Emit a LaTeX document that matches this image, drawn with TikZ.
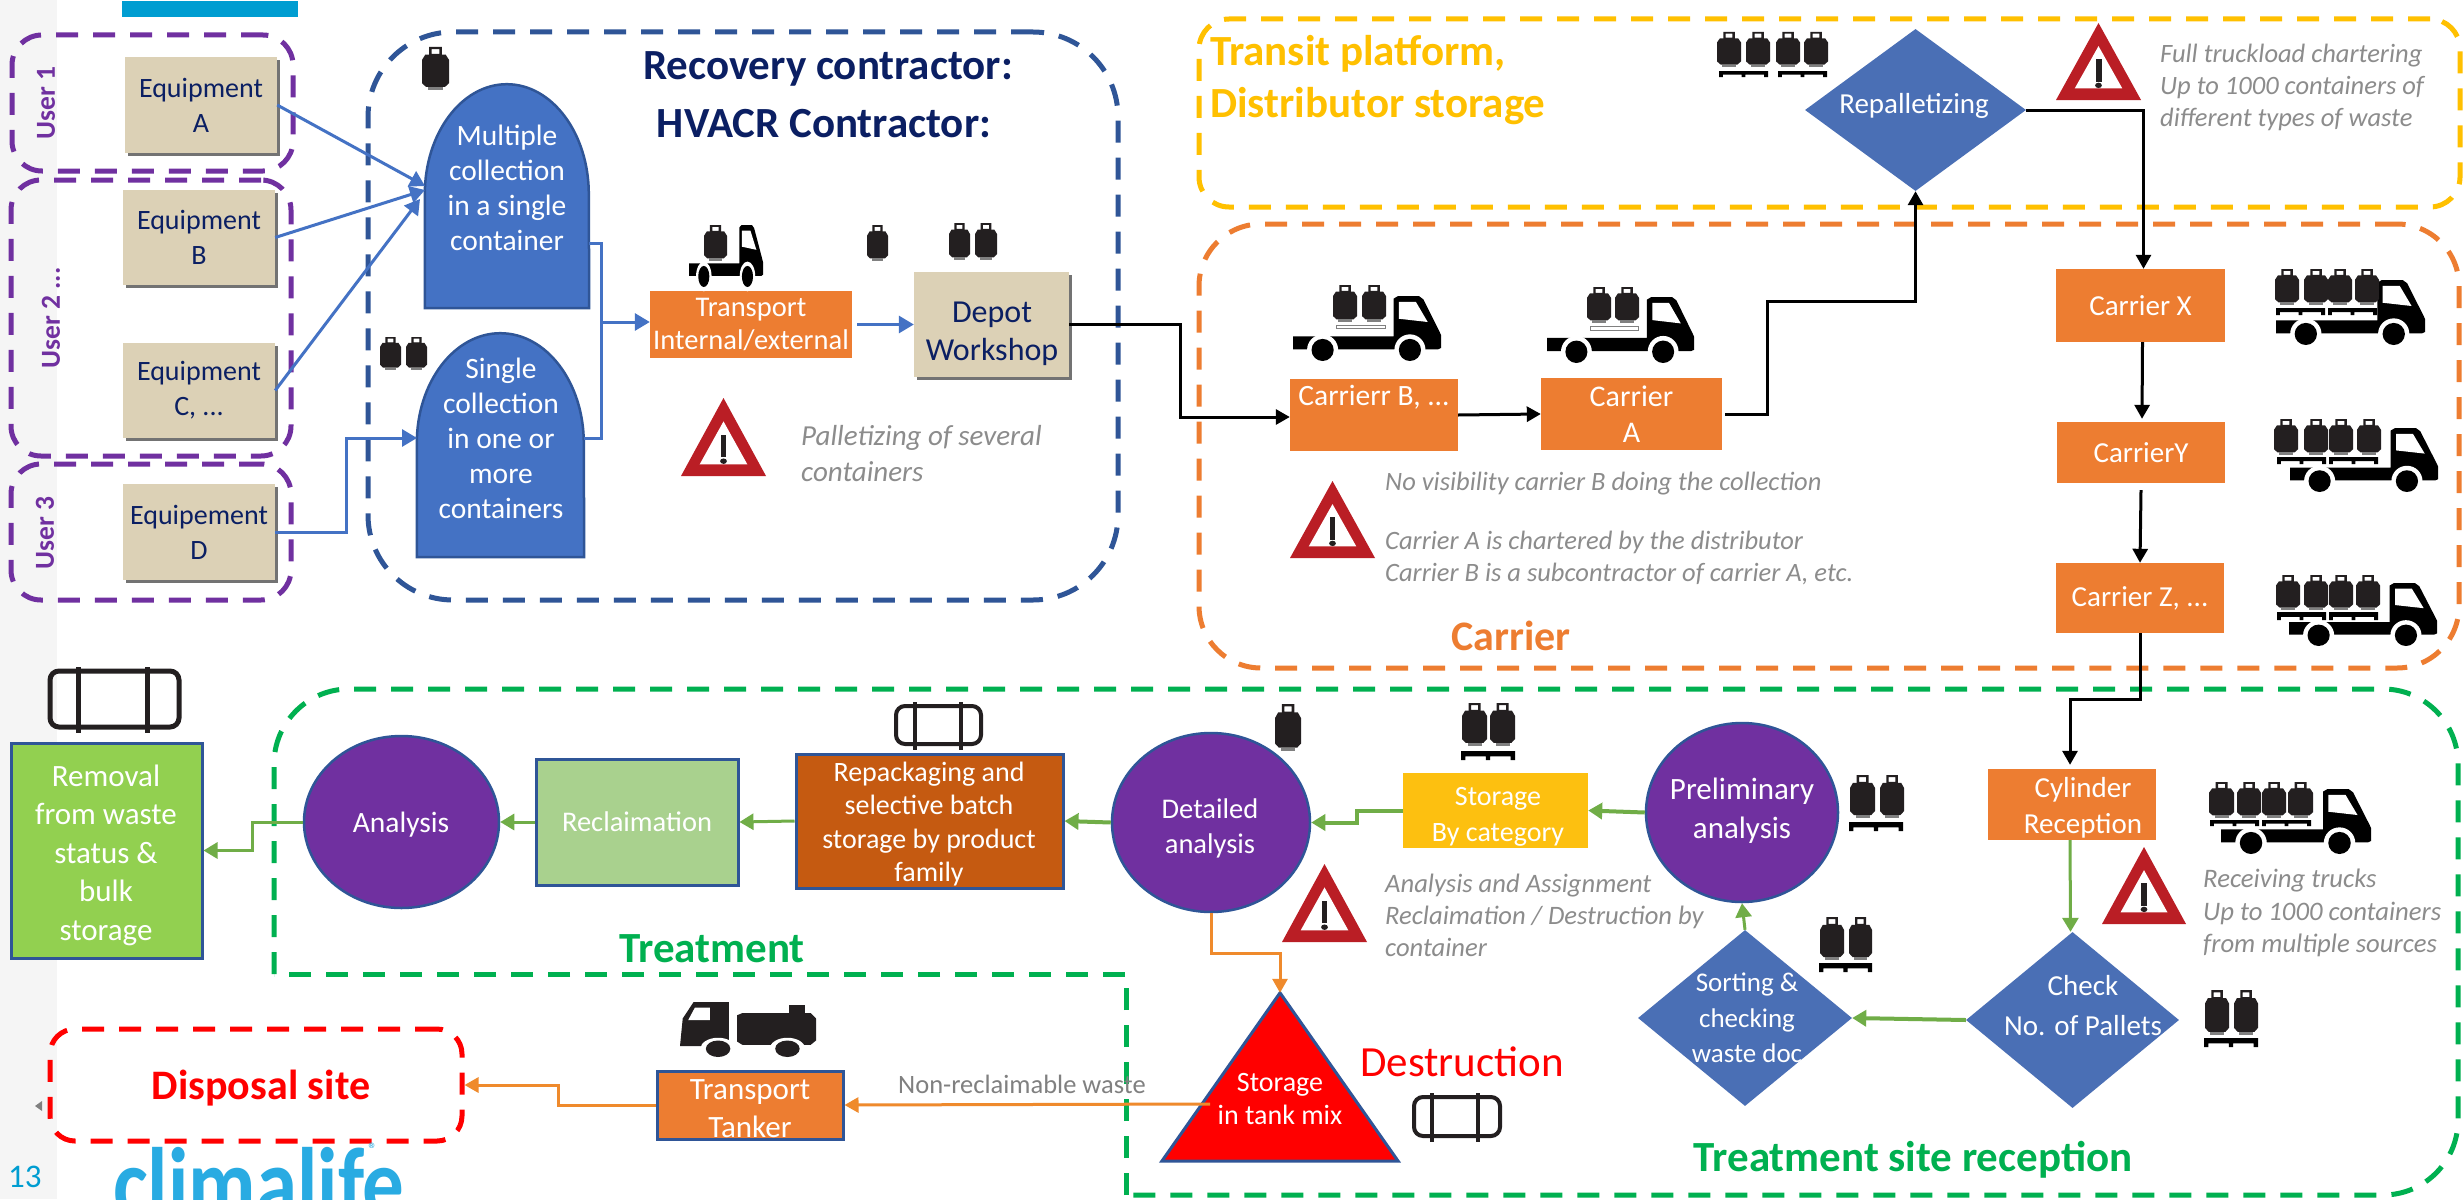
\documentclass[tikz,border=0pt]{standalone}
\usepackage{fontspec}
\setmainfont{Carlito}
\usetikzlibrary{arrows.meta,shapes.geometric,calc}
\definecolor{cpurple}{HTML}{7030A0}
\definecolor{cnavy}{HTML}{2F5597}
\definecolor{ctext}{HTML}{0B1F63}
\definecolor{cblue}{HTML}{4472C4}
\definecolor{cdia}{HTML}{4A6FB5}
\definecolor{cbeige}{HTML}{DCD1B6}
\definecolor{corange}{HTML}{ED7D31}
\definecolor{cyellow}{HTML}{FFC000}
\definecolor{cgreen}{HTML}{00B050}
\definecolor{carrow}{HTML}{70AD47}
\definecolor{cgray}{HTML}{8C8C8C}
\definecolor{cwarn}{HTML}{BA1E25}
\definecolor{cdark}{HTML}{231F20}
\definecolor{cbar}{HTML}{009DD1}
\definecolor{ccyan}{HTML}{29ABE2}
\definecolor{crepack}{HTML}{C55A11}
\definecolor{creclaim}{HTML}{A9D18E}
\definecolor{cremoval}{HTML}{92D050}
\definecolor{cstorage}{HTML}{FDC010}
\newcommand{\fsz}[2]{\fontsize{#1}{#2}\selectfont}
\tikzset{
  zone/.style={draw=#1,line width=5pt,dash pattern=on 22pt off 15pt,rounded corners=30pt,inner sep=0pt},
  equip/.style={fill=cbeige,inner sep=0pt,text=ctext,align=center,font=\fsz{28}{35}},
  shad/.style={fill=gray!90!black},
  orangebox/.style={fill=corange,inner sep=0pt,text=white,align=center,font=\fsz{29}{36}},
  bordered/.style={draw=cnavy,line width=3pt,inner sep=0pt,text=white,align=center,font=\fsz{29}{36}},
  ovalnode/.style={ellipse,fill=cpurple,draw=cnavy,line width=2.5pt,inner sep=0pt},
  dia/.style={diamond,fill=cdia,inner sep=0pt},
  wlabel/.style={text=white,align=center,inner sep=0pt,font=\fsz{29.5}{35}},
  note/.style={text=cgray,align=left,inner sep=0pt,anchor=west,font=\fsz{26.5}{32}\itshape},
  flowblue/.style={color=cblue,line width=3pt,-{Triangle[length=15pt,width=17pt]}},
  plainblue/.style={color=cblue,line width=3pt},
  flowblack/.style={color=black,line width=3pt,-{Triangle[length=14pt,width=15pt]}},
  flowgreen/.style={color=carrow,line width=3pt,-{Triangle[length=14pt,width=16pt]}},
  floworange/.style={color=corange!90!yellow,line width=3pt,-{Triangle[length=14pt,width=15pt]}},
  title/.style={inner sep=0pt,font=\fsz{43}{50}\bfseries},
}
% rectangular / any node given by its corners
\newcommand{\rnode}[7][]{%
  \pgfmathsetmacro{\cxx}{(#3+#5)/2}\pgfmathsetmacro{\cyy}{(#4+#6)/2}%
  \pgfmathsetmacro{\wdd}{#5-#3}\pgfmathsetmacro{\htt}{#6-#4}%
  \node[#1,minimum width=\wdd pt,minimum height=\htt pt] (#2) at (\cxx,\cyy) {#7};}
\newcommand{\shadow}[4]{\fill[shad] (#1+3,#2+3) rectangle (#3+3,#4+3);}
% icons
\newcommand{\gcyl}[4]{\begin{scope}[shift={(#1,#2)},xscale=#3-#1,yscale=#4-#2]
  \fill[cdark,even odd rule] (.26,0) rectangle (.74,.2) (.36,.05) rectangle (.64,.16);
  \fill[cdark] (.12,.18)--(.88,.18)--(1,.3)--(1,.84)--(.85,.93)--(.15,.93)--(0,.84)--(0,.3)--cycle;
  \fill[gray] (.22,.93) rectangle (.78,1);
\end{scope}}
\newcommand{\pallet}[4]{\begin{scope}[shift={(#1,#2)},xscale=#3-#1,yscale=#4-#2]
  \fill[black] (0,0) rectangle (1,.6) (0,.6) rectangle (.08,1) (.46,.6) rectangle (.54,1) (.92,.6) rectangle (1,1);
\end{scope}}
\newcommand{\truck}[4]{\begin{scope}[shift={(#1,#2)},xscale=#3-#1,yscale=#4-#2]
  \fill[black] (0,.62)--(.68,.62)--(.68,.04)--(.71,0)--(.85,0)--(.88,.05)--(.99,.55)--(1,.6)--(1,.8)--(.98,.82)--(0,.82)--cycle;
  \fill[white] (.716,.09)--(.83,.09)--(.91,.40)--(.716,.35)--cycle;
  \fill[white] (.2,.83) ellipse [x radius=.105,y radius=.24];
  \fill[white] (.79,.83) ellipse [x radius=.105,y radius=.24];
  \fill[black] (.2,.83) ellipse [x radius=.075,y radius=.17];
  \fill[black] (.79,.83) ellipse [x radius=.075,y radius=.17];
\end{scope}}
\newcommand{\warn}[4]{\begin{scope}[shift={(#1,#2)},xscale=#3-#1,yscale=#4-#2]
  \fill[cwarn] (.5,0)--(1,1)--(0,1)--cycle;
  \fill[white] (.5,.3)--(.78,.85)--(.22,.85)--cycle;
  \fill[cdark] (.465,.47) rectangle (.535,.76);
  \fill[cdark] (.5,.81) ellipse [x radius=.04,y radius=.035];
\end{scope}}
\newcommand{\tank}[7]{%
  \draw[cdark,line width=#7pt,rounded corners=9pt] (#1,#2) rectangle (#3,#4);
  \draw[cdark,line width=#7pt] (#5,#2-4) -- (#5,#4+6) (#6,#2-4) -- (#6,#4+6);}
\begin{document}
\begin{tikzpicture}[x=1pt,y=-1pt]
\useasboundingbox (0,0) rectangle (2464,1199);
\fill[white] (0,0) rectangle (2464,1199);
\fill[gray!8] (0,0) rectangle (57,1199);
\fill[cbar] (122,1) rectangle (298,17);
% small marker on the strip
\fill[gray] (35,1106) -- (42,1101) -- (42,1111) -- cycle;
% zones
\rnode[zone=cpurple]{user1}{12}{35}{293}{171}{}
\rnode[zone=cpurple]{user2}{11}{180}{291}{456}{}
\rnode[zone=cpurple]{user3}{11}{464}{291}{600}{}
\rnode[zone=cnavy,rounded corners=85pt]{recovery}{368}{32}{1118}{600}{}
\rnode[zone=cyellow]{transit}{1199}{19}{2460}{207}{}
\rnode[zone=corange,rounded corners=62pt]{carrierzone}{1199}{224}{2459}{668}{}
\draw[cgreen,line width=5pt,dash pattern=on 22pt off 15pt,rounded corners=75pt]
  (274,974) -- (274,689) -- (2458,689) -- (2458,1195) -- (1126,1195);
\draw[cgreen,line width=5pt,dash pattern=on 22pt off 15pt]
  (1126,1195) -- (1126,974) -- (274,974);
\rnode[zone=red,rounded corners=25pt]{disposal}{50}{1029}{462}{1141}{}
% zone labels
\node[title,text=cpurple,rotate=90,font=\fsz{27.5}{30}\bfseries] (u1t) at (46,103) {User 1};
\node[title,text=cpurple,rotate=90,font=\fsz{27.5}{30}\bfseries] (u2t) at (51,318) {User 2 ...};
\node[title,text=cpurple,rotate=90,font=\fsz{27.5}{30}\bfseries] (u3t) at (45,533) {User 3};
\node[title,text=ctext] (rc1) at (828,69) {Recovery contractor:};
\node[title,text=ctext] (rc2) at (824,124) {HVACR Contractor:};
\node[title,text=cyellow,anchor=west,align=left,font=\fsz{43}{52}\bfseries] (trt) at (1210,80) {Transit platform,\\Distributor storage};
\node[title,text=corange,font=\fsz{42}{44}\bfseries] (cat) at (1511,636) {Carrier};
\node[title,text=cgreen] (tt) at (712,949) {Treatment};
\node[title,text=cgreen] (tsr) at (1913,1160) {Treatment site reception};
\node[title,text=red,font=\fsz{42}{44}\bfseries] (dst) at (261,1088) {Disposal site};
\node[title,text=red,font=\fsz{43}{46}] (destr) at (1462,1062) {Destruction};
% equipment
\shadow{125}{57}{277}{153}\rnode[equip]{eqA}{125}{57}{277}{153}{Equipment\\A}
\shadow{123}{190}{275}{285}\rnode[equip]{eqB}{123}{190}{275}{285}{Equipment\\B}
\shadow{123}{343}{275}{438}\rnode[equip]{eqC}{123}{343}{275}{438}{Equipment\\C, ...}
\shadow{123}{484}{275}{580}\rnode[equip]{eqD}{123}{484}{275}{580}{Equipement\\D}
% domes
\rnode[inner sep=0pt]{multi}{425}{84}{589}{308}{}
\draw[fill=cblue,draw=cnavy,line width=2.5pt] (multi.south west) -- ++(0,-114) arc[start angle=180,end angle=0,x radius=82pt,y radius=110pt] -- (multi.south east) -- cycle;
\node[wlabel] (multit) at (507,188) {Multiple\\collection\\in a single\\container};
\rnode[inner sep=0pt]{single}{417}{333}{584}{557}{}
\draw[fill=cblue,draw=cnavy,line width=2.5pt] (single.south west) -- ++(0,-114) arc[start angle=180,end angle=0,x radius=83.5pt,y radius=110pt] -- (single.south east) -- cycle;
\node[wlabel] (singlet) at (501,438) {Single\\collection\\in one or\\more\\containers};
% recovery row
\rnode[orangebox,font=\fsz{28.5}{33}]{transport}{650}{291}{852}{358}{Transport\\Internal/external}
\shadow{914}{272}{1069}{377}\rnode[equip]{depot}{914}{272}{1069}{377}{}
\node[wlabel,text=ctext,font=\fsz{32}{38}] (depott) at (992,334) {Depot\\Workshop};
\rnode[orangebox]{carB}{1290}{379}{1458}{451}{}
\node[wlabel,font=\fsz{29.5}{36}] (carBt) at (1374,397) {Carrierr B, ...};
\rnode[orangebox,font=\fsz{30}{36}]{carA}{1541}{378}{1722}{450}{Carrier\\A}
\rnode[dia]{repal}{1805}{29}{2026}{191}{}
\node[wlabel,font=\fsz{29}{35}] (repalt) at (1914,106) {Repalletizing};
\rnode[orangebox]{carX}{2056}{269}{2225}{342}{Carrier X}
\rnode[orangebox]{carY}{2057}{422}{2225}{483}{CarrierY}
\rnode[orangebox]{carZ}{2056}{563}{2224}{633}{Carrier Z, ...}
% lower row
\rnode[bordered,fill=cremoval]{removal}{11}{743}{202}{958}{}
\node[wlabel,font=\fsz{31}{38.5}] (removalt) at (106,855) {Removal\\from waste\\status \&\\bulk\\storage};
\rnode[ovalnode]{analysis}{304}{736}{499}{908}{}
\node[wlabel,font=\fsz{29.5}{35}] (analysist) at (401,825) {Analysis};
\rnode[bordered,fill=creclaim,font=\fsz{28.5}{35}]{reclaim}{536}{759}{738}{885}{Reclaimation}
\rnode[bordered,fill=crepack]{repack}{796}{754}{1063}{888}{}
\node[wlabel,font=\fsz{28}{33.5}] (repackt) at (929,824) {Repackaging and\\selective batch\\storage by product\\family};
\rnode[ovalnode]{detailed}{1112}{733}{1310}{912}{}
\node[wlabel,font=\fsz{28.5}{35}] (detailedt) at (1210,828) {Detailed\\analysis};
\rnode[orangebox,fill=cstorage]{storagecat}{1403}{773}{1588}{848}{}
\node[wlabel,font=\fsz{28}{36}] (storaget) at (1498,817) {Storage\\By category};
\rnode[ovalnode]{prelim}{1646}{723}{1838}{902}{}
\node[wlabel,font=\fsz{31}{39}] (prelimt) at (1742,811) {Preliminary\\analysis};
\rnode[orangebox]{cylrec}{1988}{769}{2156}{840}{}
\node[wlabel,font=\fsz{29}{36}] (cylrect) at (2083,808) {Cylinder\\Reception};
\rnode[dia]{check}{1966}{932}{2179}{1108}{}
\node[wlabel,font=\fsz{29}{40}] (checkt) at (2083,1006) {Check\\No. of Pallets};
\rnode[dia]{sorting}{1638}{930}{1852}{1106}{}
\node[wlabel,font=\fsz{27}{35.5}] (sortingt) at (1747,1018) {Sorting \&\\checking\\waste doc};
\rnode[inner sep=0pt]{tri}{1162}{993}{1398}{1161}{}
\draw[fill=red,draw=cnavy,line width=3pt] (tri.north) -- (tri.south east) -- (tri.south west) -- cycle;
\node[wlabel,font=\fsz{28}{33}] (trit) at (1280,1099) {Storage\\in tank mix};
\rnode[bordered,fill=corange]{tanker}{657}{1071}{843}{1139}{}
\node[wlabel,font=\fsz{31}{38}] (tankert) at (750,1109) {Transport\\Tanker};
% named free ends
\coordinate (multiA) at (425,186);
\coordinate (multiB) at (425,190);
\coordinate (multiC) at (420,199);
\coordinate (singleIn) at (417,438);
\coordinate (multiOut) at (589,243);
\coordinate (singleOut) at (584,438);
\coordinate (collect) at (601,322);
\coordinate (triIn) at (1210,1104);
% connectors
\draw[flowblue] (eqA.east) -- (multiA);
\draw[flowblue] (eqB.east) -- (multiB);
\draw[flowblue] (eqC.east) -- (multiC);
\draw[flowblue] (eqD.east) -- ++(71,0) |- (singleIn);
\draw[plainblue] (multiOut) -| (collect);
\draw[plainblue] (singleOut) -| (collect);
\draw[flowblue] (collect) -- ([yshift=2.5pt]transport.west);
\draw[flowblue] ([xshift=5pt]transport.east) -- (depot.west);
\draw[flowblack] (depot.east) -- ++(111,0) |- ([yshift=-2pt]carB.west);
\draw[flowblack] (carB.east) -- (carA.west);
\draw[flowblack] ([xshift=3pt]carA.east) -- ++(42,0) -- ++(0,-113) -| (repal.south);
\draw[flowblack] (repal.east) -| ([xshift=3pt]carX.north);
\draw[flowblack] ([xshift=2pt]carX.south) -- ([xshift=1pt,yshift=3pt]carY.north);
\draw[flowblack] ([yshift=-7pt]carY.south) -- (carZ.north);
\draw[flowblack] (carZ.south) -- ++(0,66) -| ([xshift=-2pt,yshift=4pt]cylrec.north);
\draw[flowgreen] ([xshift=-2pt]cylrec.south) -- ([xshift=-2pt]check.north);
\draw[flowgreen,line width=4pt] (check.west) -- (sorting.east);
\draw[flowgreen] (sorting.north) -- (prelim.south);
\draw[flowgreen,line width=4pt] (prelim.west) -- (storagecat.east);
\draw[flowgreen,line width=4pt] (storagecat.west) -- ++(-46,0) |- (detailed.east);
\draw[flowgreen,line width=4pt] (detailed.west) -- (repack.east);
\draw[flowgreen] (repack.west) -- (reclaim.east);
\draw[flowgreen] (reclaim.west) -- (analysis.east);
\draw[flowgreen] (analysis.west) -- ++(-50,0) |- (removal.east);
\draw[floworange] (detailed.south) -- ++(0,40) -| (tri.north);
\draw[floworange] (triIn) -- (tanker.east);
\draw[floworange] (tanker.west) -- ++(-97,0) |- (disposal.east);
% notes
\node[note,font=\fsz{29}{36}\itshape] (n1) at (801,454) {Palletizing of several\\containers};
\node[note] (n2) at (1385,484) {No visibility carrier B doing the collection};
\node[note] (n3) at (1385,557.5) {Carrier A is chartered by the distributor\\Carrier B is a subcontractor of carrier A, etc.};
\node[note] (n4) at (2160,87) {Full truckload chartering\\Up to 1000 containers of\\different types of waste};
\node[note,font=\fsz{26.6}{32}\itshape] (n5) at (1385,915) {Analysis and Assignment\\Reclaimation / Destruction by\\container};
\node[note,font=\fsz{26.7}{32.5}\itshape] (n6) at (2203,913) {Receiving trucks\\Up to 1000 containers\\from multiple sources};
\node[text=gray,inner sep=0pt,anchor=west,font=\fsz{26.5}{28}] (nrw) at (898,1084) {Non-reclaimable waste};
% warnings
\warn{681}{398}{766}{476}
\warn{1290}{481}{1375}{558}
\warn{2056}{23}{2141}{100}
\warn{1282}{864}{1367}{942}
\warn{2102}{847}{2186}{924}
% cylinders
\gcyl{422}{47}{449}{90}
\gcyl{380}{337}{401}{370}\gcyl{406}{337}{427}{370}
\gcyl{867}{225}{888}{261}
\gcyl{949}{223}{970}{260}\gcyl{975}{223}{997}{260}
% transport truck
\truck{689}{225}{763}{287}
\gcyl{704}{225}{727}{261}
% carriers B, A
\truck{1293}{296}{1441}{361}\gcyl{1333}{285}{1357}{322}\gcyl{1362}{285}{1386}{322}
\draw[gray,line width=1pt,fill=white] (1336,325) rectangle (1385,328);
\truck{1547}{297}{1694}{363}\gcyl{1587}{287}{1611}{323}\gcyl{1615}{287}{1639}{323}
\draw[gray,line width=1pt,fill=white] (1590,326) rectangle (1638,330);
% top group
\gcyl{1717}{32}{1741}{67}\gcyl{1746}{32}{1770}{67}\gcyl{1776}{32}{1800}{67}\gcyl{1804}{32}{1828}{67}
\pallet{1719}{71}{1768}{77}\pallet{1778}{71}{1827}{77}
% X, Y, Z trucks
\truck{2276}{280}{2425}{345}
\gcyl{2275}{269}{2299}{305}\gcyl{2304}{269}{2328}{305}\gcyl{2328}{269}{2352}{305}\gcyl{2355}{269}{2379}{305}
\pallet{2276}{308}{2325}{315}\pallet{2328}{308}{2377}{315}
\truck{2290}{428}{2438}{492}
\gcyl{2274}{419}{2298}{455}\gcyl{2304}{419}{2328}{455}\gcyl{2329}{419}{2353}{455}\gcyl{2357}{419}{2381}{455}
\pallet{2277}{457}{2326}{464}\pallet{2329}{457}{2378}{464}
\truck{2289}{583}{2437}{646}
\gcyl{2276}{575}{2300}{610}\gcyl{2304}{575}{2328}{610}\gcyl{2329}{575}{2353}{610}\gcyl{2356}{575}{2380}{610}
\pallet{2277}{612}{2326}{620}\pallet{2329}{612}{2378}{620}
% reception truck
\truck{2221}{789}{2371}{854}
\gcyl{2209}{782}{2234}{818}\gcyl{2237}{782}{2261}{818}\gcyl{2262}{782}{2286}{818}\gcyl{2288}{782}{2313}{818}
\pallet{2210}{820}{2259}{826}\pallet{2262}{820}{2311}{826}
% pairs on pallets
\gcyl{1462}{703}{1487}{746}\gcyl{1490}{703}{1515}{746}\pallet{1461}{751}{1515}{760}
\gcyl{1850}{775}{1875}{818}\gcyl{1880}{775}{1904}{818}\pallet{1849}{822}{1903}{831}
\gcyl{1820}{917}{1844}{960}\gcyl{1849}{917}{1872}{960}\pallet{1819}{963}{1872}{972}
\gcyl{2205}{990}{2229}{1035}\gcyl{2234}{990}{2258}{1035}\pallet{2204}{1038}{2258}{1047}
\gcyl{1275}{704}{1301}{751}
% bulk tanks
\tank{50}{671}{179}{727}{78}{147}{5}
\tank{896}{706}{981}{744}{915}{961}{4}
\tank{1414}{1097}{1500}{1136}{1432}{1478}{4}
% tanker truck
\begin{scope}[shift={(680,1002)},xscale=136,yscale=55]
  \fill[cdark] (.02,.3)--(.1,0)--(.36,0)--(.36,.8)--(0,.8)--cycle;
  \fill[white] (.06,.33)--(.11,.1)--(.22,.1)--(.22,.33)--cycle;
  \fill[cdark] (.42,.24)--(.46,.2)--(.96,.2)--(1,.3)--(1,.7)--(.96,.78)--(.46,.78)--(.42,.72)--cycle;
  \fill[cdark] (.8,.05) rectangle (.92,.2);
  \fill[white] (.28,.85) ellipse [x radius=.13,y radius=.2];
  \fill[white] (.79,.85) ellipse [x radius=.13,y radius=.2];
  \fill[cdark] (.28,.85) ellipse [x radius=.09,y radius=.15];
  \fill[cdark] (.79,.85) ellipse [x radius=.09,y radius=.15];
\end{scope}
% page number and logo
\node[text=cbar,inner sep=0pt,anchor=west,font=\fsz{33}{36}] (pageno) at (8,1177) {13};
\begin{scope}
  \clip (0,0) rectangle (2464,1199);
  \node[text=ccyan,inner sep=0pt,anchor=base west,font=\fsz{100}{104}\bfseries] (logo) at (113,1217) {\scalebox{.83}[1]{climalife}};
  \node[text=ccyan,inner sep=0pt,font=\fsz{18}{20}] (logor) at (373,1149) {®};
\end{scope}
\end{tikzpicture}
\end{document}
